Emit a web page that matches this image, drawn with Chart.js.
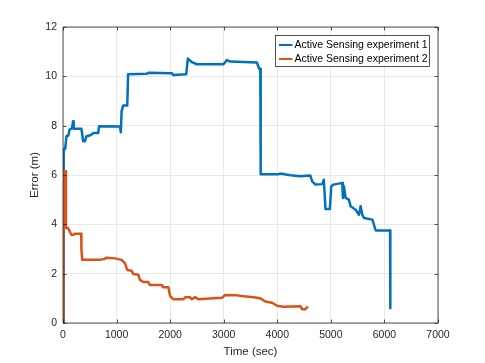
<!DOCTYPE html>
<html>
<head>
<meta charset="utf-8">
<script src="https://cdn.jsdelivr.net/npm/chart.js@4"></script>
<style>
  html, body { margin: 0; padding: 0; background: #fff; }
  canvas { display: block; }
</style>
</head>
<body>
<canvas id="myChart" width="485" height="363"></canvas>
<script>
// experiment 1 (time in sec, error in m)
const exp1Time = [13, 13, 40, 64, 100, 125, 170, 188, 200, 344, 375, 410, 437, 500, 531, 562, 656, 675,
    1062, 1080, 1094, 1125, 1200, 1215, 1560, 1600, 2030, 2060, 2300, 2330, 2404, 2500, 2996, 3060,
    3122, 3620, 3660, 3683, 3690, 4026, 4050, 4245, 4432, 4600, 4619, 4651, 4713, 4838, 4869, 4900,
    4982, 5007, 5050, 5213, 5225, 5244, 5275, 5337, 5369, 5462, 5525, 5556, 5587, 5618, 5775, 5837,
    6105, 6110];
const exp1Error = [0, 7.05, 7.05, 7.57, 7.6, 7.85, 7.9, 8.18, 7.87, 7.87, 7.37, 7.37, 7.57, 7.6, 7.64, 7.7, 7.7, 7.98,
    7.97, 7.73, 8.59, 8.82, 8.82, 10.08, 10.1, 10.15, 10.13, 10.05, 10.08, 10.72, 10.58, 10.49, 10.49, 10.66,
    10.6, 10.56, 10.31, 10.31, 6.03, 6.03, 6.06, 5.99, 5.95, 5.98, 5.97, 5.74, 5.61, 5.63, 5.81, 4.62,
    4.62, 5.54, 5.61, 5.68, 5.07, 5.54, 5.07, 5.0, 4.73, 4.59, 4.39, 4.73, 4.39, 4.26, 4.19, 3.75,
    3.75, 0.6];

// experiment 2
const exp2Time = [0, 8, 50, 55, 94, 156, 200, 219, 340, 344, 360, 687, 780, 812, 968, 1094, 1156, 1200,
    1280, 1311, 1405, 1436, 1499, 1592, 1624, 1843, 1873, 1967, 1998, 2060, 2247, 2280, 2373, 2404,
    2466, 2528, 2809, 2966, 3028, 3247, 3371, 3558, 3683, 3777, 3902, 3996, 4120, 4432, 4464, 4526, 4557];
const exp2Error = [0, 6.15, 6.15, 3.85, 3.85, 3.58, 3.58, 3.62, 3.62, 2.97, 2.56, 2.56, 2.6, 2.65, 2.62, 2.56, 2.43, 2.15,
    2.12, 1.99, 1.96, 1.75, 1.66, 1.66, 1.54, 1.54, 1.45, 1.45, 1.10, 0.96, 0.96, 1.04, 1.04, 0.96,
    1.05, 0.96, 1.0, 1.02, 1.14, 1.12, 1.08, 1.04, 1.0, 0.87, 0.82, 0.70, 0.66, 0.68, 0.56, 0.56, 0.64];

const seriesLabels = ["Active Sensing experiment 1", "Active Sensing experiment 2"];
const xTicks = [0, 1000, 2000, 3000, 4000, 5000, 6000, 7000];
const yTicks = [0, 2, 4, 6, 8, 10, 12];

const toPoints = (xs, ys) => xs.map((x, i) => ({ x: x, y: ys[i] }));

const textColor = "#262626";
const fontFamily = "'Liberation Sans', Arial, Helvetica, sans-serif";

// box, inward ticks and legend like matlab
const matlabAxes = {
    id: "matlabAxes",
    afterDraw(chart) {
        const ctx = chart.ctx;
        const a = chart.chartArea;
        const xs = chart.scales.x, ys = chart.scales.y;
        const tl = 3.5;
        ctx.save();
        ctx.strokeStyle = textColor;
        ctx.lineWidth = 0.8;
        ctx.beginPath();
        ctx.rect(a.left, a.top, a.right - a.left, a.bottom - a.top);
        xTicks.forEach(v => {
            const px = Math.round(xs.getPixelForValue(v)) + 0.5;
            ctx.moveTo(px, a.bottom); ctx.lineTo(px, a.bottom - tl);
            ctx.moveTo(px, a.top); ctx.lineTo(px, a.top + tl);
        });
        yTicks.forEach(v => {
            const py = Math.round(ys.getPixelForValue(v)) + 0.5;
            ctx.moveTo(a.left, py); ctx.lineTo(a.left + tl, py);
            ctx.moveTo(a.right, py); ctx.lineTo(a.right - tl, py);
        });
        ctx.stroke();

        // legend
        const bx = 275.5, by = 35.5, bw = 154, bh = 31;
        ctx.fillStyle = "#fff";
        ctx.fillRect(bx, by, bw, bh);
        ctx.strokeStyle = textColor;
        ctx.lineWidth = 0.8;
        ctx.strokeRect(bx, by, bw, bh);
        ctx.font = "10.5px " + fontFamily;
        ctx.textBaseline = "middle";
        ctx.textAlign = "left";
        chart.data.datasets.forEach((ds, i) => {
            const cy = by + 9.5 + i * 14;
            ctx.strokeStyle = ds.borderColor;
            ctx.lineWidth = 2;
            ctx.beginPath();
            ctx.moveTo(bx + 3.5, cy); ctx.lineTo(bx + 17, cy);
            ctx.stroke();
            ctx.fillStyle = "#000";
            ctx.fillText(ds.label, bx + 19, cy + 0.5);
        });
        ctx.restore();
    }
};

new Chart(document.getElementById("myChart"), {
    type: "line",
    data: {
        datasets: [{
            label: seriesLabels[0],
            data: toPoints(exp1Time, exp1Error),
            borderColor: "#0072BD",
            borderWidth: 2.5,
            borderJoinStyle: "round",
            borderCapStyle: "round",
            pointRadius: 0,
            tension: 0,
            fill: false,
            order: 2
        }, {
            label: seriesLabels[1],
            data: toPoints(exp2Time, exp2Error),
            borderColor: "#D95319",
            borderWidth: 2.5,
            borderJoinStyle: "round",
            borderCapStyle: "round",
            pointRadius: 0,
            tension: 0,
            fill: false,
            order: 1
        }]
    },
    options: {
        responsive: false,
        animation: false,
        layout: { padding: { left: 0, top: 27, right: 47, bottom: 0 } },
        plugins: {
            legend: { display: false },
            tooltip: { enabled: false }
        },
        scales: {
            x: {
                type: "linear",
                min: 0,
                max: 7000,
                afterFit: s => { s.height = 40; },
                afterBuildTicks: s => { s.ticks = xTicks.map(v => ({ value: v })); },
                grid: { color: "#e3e3e3", lineWidth: 0.8, drawTicks: false },
                border: { display: false },
                ticks: {
                    padding: 6,
                    color: textColor,
                    maxRotation: 0,
                    callback: v => String(v),
                    font: { family: fontFamily, size: 10.5 }
                },
                title: {
                    display: true,
                    text: "Time (sec)",
                    color: textColor,
                    padding: { top: 0, bottom: 4 },
                    font: { family: fontFamily, size: 11.5 }
                }
            },
            y: {
                min: 0,
                max: 12,
                afterFit: s => { s.width = 63; },
                afterBuildTicks: s => { s.ticks = yTicks.map(v => ({ value: v })); },
                grid: { color: "#e3e3e3", lineWidth: 0.8, drawTicks: false },
                border: { display: false },
                ticks: {
                    padding: 6,
                    color: textColor,
                    callback: v => String(v),
                    font: { family: fontFamily, size: 10.5 }
                },
                title: {
                    display: true,
                    text: "Error (m)",
                    color: textColor,
                    padding: { top: 27.5, bottom: 0 },
                    font: { family: fontFamily, size: 11.5 }
                }
            }
        }
    },
    plugins: [matlabAxes]
});
</script>
</body>
</html>
